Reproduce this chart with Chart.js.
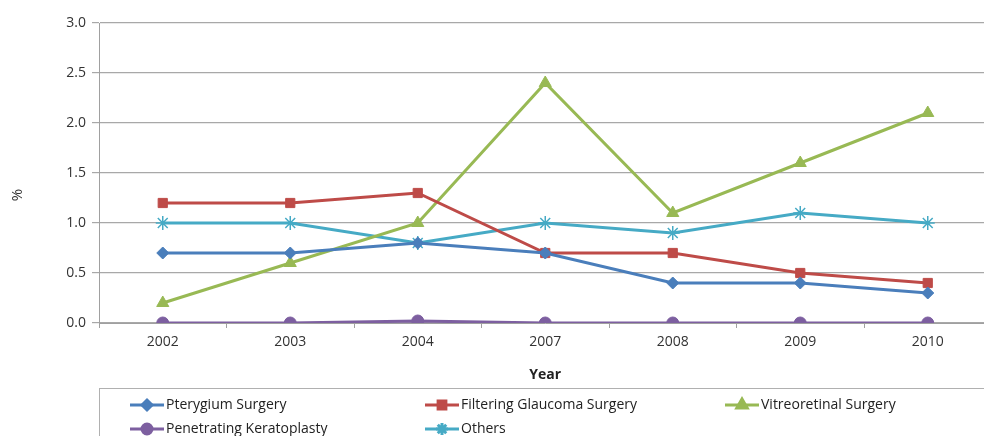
<!DOCTYPE html>
<html>
<head>
<meta charset="utf-8">
<script src="https://cdn.jsdelivr.net/npm/chart.js@4"></script>
<style>
  html, body { margin: 0; padding: 0; background: #fff; overflow: hidden; }
  #wrap { width: 1000px; height: 436px; position: relative; }
</style>
</head>
<body>
<div id="wrap"><canvas id="chart"></canvas></div>
<script>
// categories and series
const years = ['2002', '2003', '2004', '2007', '2008', '2009', '2010'];
const pterygium = [0.7, 0.7, 0.8, 0.7, 0.4, 0.4, 0.3];
const glaucoma = [1.2, 1.2, 1.3, 0.7, 0.7, 0.5, 0.4];
const vitreoretinal = [0.2, 0.6, 1.0, 2.4, 1.1, 1.6, 2.1];
const keratoplasty = [0, 0, 0.02, 0, 0, 0, 0];
const others = [1.0, 1.0, 0.8, 1.0, 0.9, 1.1, 1.0];
const yTicks = [0, 0.5, 1.0, 1.5, 2.0, 2.5, 3.0];

const FONT = '"Open Sans", "Liberation Sans", sans-serif';

function series(label, data, color, style, radius) {
    return {
        label, data,
        borderColor: color,
        backgroundColor: color,
        pointBackgroundColor: color,
        pointBorderColor: color,
        pointStyle: style,
        pointRadius: radius,
        pointBorderWidth: style === 'star' ? 1.5 : 1,
        borderWidth: 3,
        tension: 0
    };
}

const datasets = [
    series('Pterygium Surgery', pterygium, '#4a7ebb', 'rectRot', 6),
    series('Filtering Glaucoma Surgery', glaucoma, '#be4b48', 'rect', 6.5),
    series('Vitreoretinal Surgery', vitreoretinal, '#98b954', 'triangle', 7),
    series('Penetrating Keratoplasty', keratoplasty, '#7d5fa0', 'circle', 6),
    series('Others', others, '#46aac5', 'star', 7)
];

// legend box under the chart (three columns) and the "%" axis title
const boxLegend = {
    id: 'boxLegend',
    afterDraw(chart) {
        const ctx = chart.ctx;
        ctx.save();
        ctx.strokeStyle = '#b0b0b0';
        ctx.lineWidth = 1;
        ctx.strokeRect(99.5, 388.5, 905, 60);
        const cols = [130, 425, 725];
        const rows = [405, 429];
        chart.data.datasets.forEach((ds, i) => {
            const x = cols[i % 3], y = rows[Math.floor(i / 3)];
            ctx.strokeStyle = ds.borderColor;
            ctx.fillStyle = ds.backgroundColor;
            ctx.lineWidth = 3;
            ctx.beginPath();
            ctx.moveTo(x, y);
            ctx.lineTo(x + 34, y);
            ctx.stroke();
            Chart.helpers.drawPoint(ctx, {
                pointStyle: ds.pointStyle,
                radius: ds.pointRadius - 1,
                borderWidth: ds.pointBorderWidth
            }, x + 17, y);
            ctx.fillStyle = '#222';
            ctx.font = '14px ' + FONT;
            ctx.textBaseline = 'middle';
            ctx.textAlign = 'left';
            ctx.fillText(ds.label, x + 36, y);
        });
        ctx.translate(18, 195);
        ctx.rotate(-Math.PI / 2);
        ctx.fillStyle = '#333';
        ctx.font = '15px ' + FONT;
        ctx.textAlign = 'center';
        ctx.textBaseline = 'middle';
        ctx.fillText('%', 0, 0);
        ctx.restore();
    }
};

new Chart(document.getElementById('chart'), {
    type: 'line',
    data: { labels: years, datasets },
    plugins: [boxLegend],
    options: {
        responsive: true,
        maintainAspectRatio: false,
        animation: false,
        layout: { padding: { top: 23, right: 6, bottom: 53, left: 0 } },
        plugins: { legend: { display: false }, tooltip: { enabled: false } },
        scales: {
            x: {
                offset: true,
                grid: { offset: true, drawOnChartArea: false, drawTicks: true, tickLength: 5, color: '#a0a0a0' },
                border: { color: '#a0a0a0' },
                ticks: { color: '#333', font: { family: FONT, size: 14 }, padding: 6 },
                title: { display: true, text: 'Year', color: '#222', font: { family: FONT, size: 14, weight: 'bold' }, padding: { top: 6, bottom: 0 } },
                afterFit(s) { s.height = 60; }
            },
            y: {
                min: 0,
                max: 3,
                afterBuildTicks(s) { s.ticks = yTicks.map(v => ({ value: v })); },
                grid: { color: '#a8a8a8', tickLength: 7, lineWidth: 1.2 },
                border: { color: '#a0a0a0' },
                ticks: {
                    color: '#333',
                    font: { family: FONT, size: 14 },
                    padding: 6,
                    callback: v => v.toFixed(1)
                },
                afterFit(s) { s.width = 99; }
            }
        }
    }
});
</script>
</body>
</html>
